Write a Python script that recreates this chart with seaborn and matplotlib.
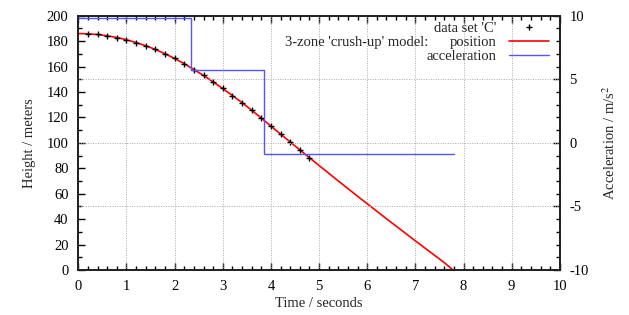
import numpy as np
import pandas as pd
import seaborn as sns
import matplotlib.pyplot as plt
from matplotlib.lines import Line2D
from matplotlib.ticker import MultipleLocator

# model position curve
model_t = [0.0, 0.2, 0.4, 0.6, 0.8, 1.0, 1.2, 1.4, 1.6, 1.8, 2.0, 2.2, 2.4, 2.6, 2.8,
           3.0, 3.2, 3.4, 3.6, 3.8, 4.0, 4.2, 4.4, 4.6, 4.8, 5.0, 5.2, 5.4, 5.6, 5.8,
           6.0, 6.2, 6.4, 6.6, 6.8, 7.0, 7.2, 7.4, 7.6, 7.78]
model_h = [186.0, 185.8, 185.2, 184.2, 182.9, 181.1, 178.9, 176.4, 173.5, 170.1, 166.4,
           162.3, 157.7, 153.0, 148.0, 142.7, 137.3, 131.6, 125.7, 119.5, 113.2, 106.9,
           100.7, 94.5, 88.3, 82.2, 76.1, 70.0, 64.0, 58.0, 52.1, 46.2, 40.3, 34.5, 28.7,
           22.9, 17.2, 11.5, 5.8, 0.0]

# data set 'C'
data_t = [0.2, 0.4, 0.6, 0.8, 1.0, 1.2, 1.4, 1.6, 1.8, 2.0, 2.2, 2.4, 2.6, 2.8, 3.0,
          3.2, 3.4, 3.6, 3.8, 4.0, 4.2, 4.4, 4.6, 4.8]
data_h = [185.8, 185.3, 184.2, 182.8, 181.0, 178.9, 176.5, 173.5, 170.1, 166.5, 162.2,
          157.6, 153.0, 148.0, 142.8, 137.2, 131.7, 125.6, 119.6, 113.2, 107.0, 100.6,
          94.6, 88.3]

# acceleration zones
acc_t = [0.0, 2.35, 3.85, 7.8]
acc_a = [9.8, 5.7, -0.9, -0.9]

sns.set_style("ticks")
plt.rcParams['font.family'] = ['Liberation Serif', 'DejaVu Serif']
plt.rcParams['font.size'] = 10.5
plt.rcParams['mathtext.fontset'] = 'stix'
plt.rcParams['axes.unicode_minus'] = False

fig = plt.figure(figsize=(6.29, 3.15), dpi=100)
ax = fig.add_axes([0.1245, 0.143, 0.7655, 0.807])
ax2 = ax.twinx()

model = pd.DataFrame({'t': model_t, 'h': model_h})
pts = pd.DataFrame({'t': data_t, 'h': data_h})
acc = pd.DataFrame({'t': acc_t, 'a': acc_a})

sns.lineplot(data=model, x='t', y='h', color='red', lw=1.2, ax=ax, zorder=3)
sns.scatterplot(data=pts, x='t', y='h', marker='+', s=20, color='black',
                linewidth=1.0, ax=ax, zorder=4)
sns.lineplot(data=acc, x='t', y='a', color='#5555ff', lw=1.0, ax=ax2,
             drawstyle='steps-post', zorder=2)

ax.set_xlim(0, 10)
ax.set_ylim(0, 200)
ax2.set_ylim(-10, 10)

ax.xaxis.set_major_locator(MultipleLocator(1))
ax.xaxis.set_minor_locator(MultipleLocator(0.2))
ax.yaxis.set_major_locator(MultipleLocator(20))
ax.yaxis.set_minor_locator(MultipleLocator(10))
ax2.yaxis.set_major_locator(MultipleLocator(5))
ax2.yaxis.set_minor_locator(MultipleLocator(1))

ax.tick_params(which='both', direction='in', top=True, right=False, colors='black')
ax.tick_params(which='major', length=5, width=1)
ax.tick_params(which='minor', length=3, width=1)
ax2.tick_params(which='both', direction='in', colors='black')
ax2.tick_params(which='major', length=5, width=1)
ax2.tick_params(which='minor', length=3, width=1)
ax.tick_params(axis='y', pad=7)
ax.tick_params(axis='x', pad=7)
ax2.tick_params(axis='y', pad=7)

# grid: x at major ticks, y at right-axis major ticks
for x in range(1, 10):
    ax.axvline(x, color='#aaaaaa', lw=0.7, ls=(0, (1, 1.5)), zorder=1)
for y in [-5, 0, 5]:
    ax2.axhline(y, color='#aaaaaa', lw=0.7, ls=(0, (1, 1.5)), zorder=1)

for a in (ax, ax2):
    for s in a.spines.values():
        s.set_linewidth(1.3)
        s.set_color('#222222')

ax.set_xlabel('Time / seconds', labelpad=3)
ax.set_ylabel('Height / meters', labelpad=8)
ax2.set_ylabel('Acceleration / m/s$^2$', labelpad=9)

handles = [Line2D([], [], marker='+', ls='none', color='black', markersize=4),
           Line2D([], [], color='red', lw=1.2),
           Line2D([], [], color='#5555ff', lw=1.0)]
labels = ["data set 'C'", 'position', 'acceleration']
ax2.legend(handles, labels, loc='upper right', bbox_to_anchor=(0.998, 1.015),
           frameon=False, markerfirst=False, handlelength=2.7, handletextpad=0.9,
           labelspacing=0.05, borderaxespad=0.3, fontsize=10.5)
fig.text(428 / 629, 1 - 46 / 315, "3-zone 'crush-up' model:", ha='right',
         va='baseline', fontsize=10.5)

fig.savefig('out.png', dpi=100)
plt.close()
